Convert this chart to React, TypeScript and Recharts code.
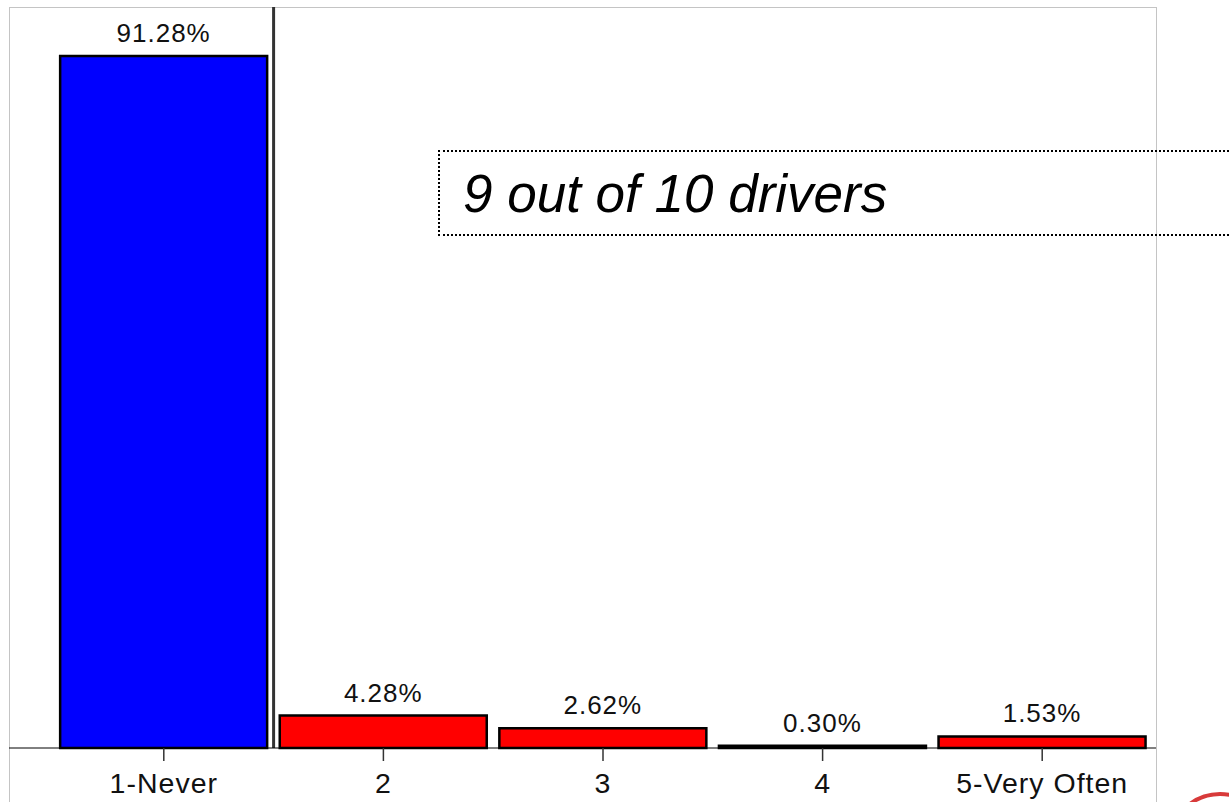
import { BarChart, Bar, XAxis, YAxis, Cell, LabelList, ReferenceLine } from 'recharts'

const categories = ['1-Never', '2', '3', '4', '5-Very Often']
const shares = [91.28, 4.28, 2.62, 0.3, 1.53]
const note = '9 out of 10 drivers'

const data = categories.map((name, i) => ({ name, value: shares[i] }))

const FONT = '"Liberation Sans", Arial, sans-serif'

const barFill = (i: number) => (i === 0 ? '#0000ff' : '#ff0000')

export default function App () {
  return (
    <div style={{ position: 'fixed', left: 0, top: 0, width: 1229, height: 802, overflow: 'hidden', background: '#fff' }}>
      {/* light gray frame, open at the bottom */}
      <div
        style={{
          position: 'absolute',
          left: 9,
          top: 7,
          width: 1146,
          height: 820,
          borderTop: '1px solid #c4c4c4',
          borderLeft: '1px solid #c4c4c4',
          borderRight: '1px solid #c4c4c4'
        }}
      />
      <div style={{ position: 'absolute', left: 0, top: 0 }}>
        <BarChart
          width={1229}
          height={802}
          data={data}
          margin={{ top: 7, right: 73, bottom: 0, left: 9 }}
          barCategoryGap='2.8%'
        >
          <XAxis
            dataKey='name'
            height={54}
            padding={{ left: 45, right: 4 }}
            axisLine={{ stroke: '#000', strokeWidth: 1 }}
            tickLine={{ stroke: '#333', strokeWidth: 1.5 }}
            tickSize={13}
            tickMargin={12}
            interval={0}
            tick={{ fill: '#111', fontSize: 28.5, fontFamily: FONT, letterSpacing: 1 }}
          />
          <YAxis hide domain={[0, 97.74]} />
          <ReferenceLine x={categories[0]} position='end' stroke='#333' strokeWidth={3} />
          <Bar dataKey='value' stroke='#000' strokeWidth={2.5} isAnimationActive={false}>
            {data.map((d, i) => (
              <Cell key={d.name} fill={barFill(i)} />
            ))}
            <LabelList
              dataKey='value'
              position='top'
              offset={14}
              formatter={(v: any) => `${Number(v).toFixed(2)}%`}
              style={{ fill: '#111', fontSize: 26, fontFamily: FONT, letterSpacing: 1 }}
            />
          </Bar>
        </BarChart>
      </div>
      {/* dotted annotation box */}
      <div
        style={{
          position: 'absolute',
          left: 438,
          top: 150,
          width: 820,
          height: 82,
          border: '2px dotted #000',
          display: 'flex',
          alignItems: 'center',
          paddingLeft: 23,
          boxSizing: 'content-box',
          fontFamily: FONT,
          fontStyle: 'italic',
          fontSize: 53,
          lineHeight: 1,
          color: '#000'
        }}
      >
        {note}
      </div>
      {/* clipped logo arc at the corner */}
      <div
        style={{
          position: 'absolute',
          left: 1168,
          top: 792,
          width: 96,
          height: 96,
          borderRadius: '50%',
          border: '4px solid #d83a3a'
        }}
      />
    </div>
  )
}
